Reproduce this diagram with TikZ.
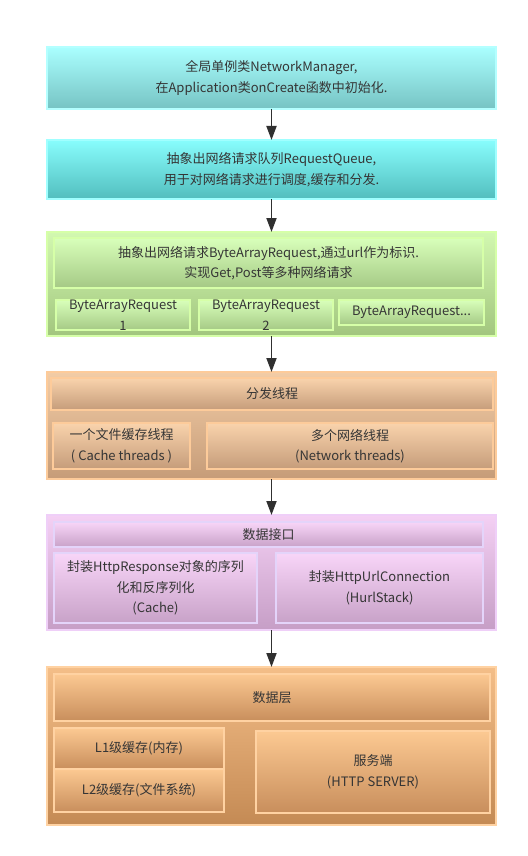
\documentclass[tikz,border=0pt]{standalone}
\usepackage{fontspec}
\setmainfont{Noto Sans CJK SC}
\usetikzlibrary{arrows.meta}

\definecolor{txt}{HTML}{353535}
\definecolor{arr}{HTML}{303030}
% cyan layers
\definecolor{cAt}{HTML}{AAFFFF}\definecolor{cAb}{HTML}{76C3C3}\definecolor{cAe}{HTML}{B4FFFF}
\definecolor{cBt}{HTML}{88FDFD}\definecolor{cBb}{HTML}{52BEBE}\definecolor{cBe}{HTML}{A0FFFF}
% green layer
\definecolor{gOt}{HTML}{D2F8B0}\definecolor{gOb}{HTML}{A2C67E}\definecolor{gE}{HTML}{D6FFA8}
\definecolor{gIt}{HTML}{D8FFBA}\definecolor{gIb}{HTML}{A5C985}
% dispatcher layer
\definecolor{oOt}{HTML}{F2CCA6}\definecolor{oOb}{HTML}{C69C78}\definecolor{oE}{HTML}{FDCB9A}
\definecolor{oIt}{HTML}{F9D3AC}\definecolor{oIb}{HTML}{C59C7A}
% interface layer
\definecolor{pOt}{HTML}{F4D0F4}\definecolor{pOb}{HTML}{C69EC6}\definecolor{pOE}{HTML}{EFCFF8}
\definecolor{pIt}{HTML}{F8D5F8}\definecolor{pIb}{HTML}{C8A2C8}\definecolor{pIE}{HTML}{E4D4FA}
% data layer
\definecolor{dOt}{HTML}{F4BE88}\definecolor{dOb}{HTML}{C48A54}\definecolor{dE}{HTML}{FFD2A2}
\definecolor{dIt}{HTML}{FCC992}\definecolor{dIb}{HTML}{C88E5C}

\tikzset{
  box/.style={draw, line width=1.6pt, anchor=north west, inner sep=0pt, outer sep=0pt,
    align=center, text=txt, font=\fontsize{13}{20.5}\selectfont},
  cyanA/.style={top color=cAt, bottom color=cAb, draw=cAe},
  cyanB/.style={top color=cBt, bottom color=cBb, draw=cBe},
  greenO/.style={top color=gOt, bottom color=gOb, draw=gE},
  greenI/.style={top color=gIt, bottom color=gIb, draw=gE},
  orO/.style={top color=oOt, bottom color=oOb, draw=oE},
  orI/.style={top color=oIt, bottom color=oIb, draw=oE},
  puO/.style={top color=pOt, bottom color=pOb, draw=pOE},
  puI/.style={top color=pIt, bottom color=pIb, draw=pIE},
  daO/.style={top color=dOt, bottom color=dOb, draw=dE},
  daI/.style={top color=dIt, bottom color=dIb, draw=dE},
  flow/.style={draw=arr, line width=1.8pt, -{Triangle[width=10pt,length=14pt]}}
}

% \blk{name}{x1}{y1}{x2}{y2}{style}{text}
\newcommand\blk[7]{%
  \node[box,#6,minimum width={(#4-#2)*1pt},minimum height={(#5-#3)*1pt}] (#1) at (#2,#3) {#7};}

\begin{document}
\begin{tikzpicture}[x=1pt,y=-1pt]
\useasboundingbox[fill=white] (0,0) rectangle (527,856);

\blk{init}{47}{47}{496}{109}{cyanA}{全局单例类NetworkManager,\\在Application类onCreate函数中初始化.}
\blk{queue}{47}{140}{496}{199}{cyanB}{抽象出网络请求队列RequestQueue,\\用于对网络请求进行调度,缓存和分发.}

\blk{reqgrp}{47}{232}{496}{336}{greenO}{}
\blk{reqtop}{54}{238}{483}{288}{greenI}{抽象出网络请求ByteArrayRequest,通过url作为标识.\\实现Get,Post等多种网络请求}
\blk{req1}{56}{300}{190}{325}{greenI}{ByteArrayRequest\\1}
\blk{req2}{199}{300}{333}{325}{greenI}{ByteArrayRequest\\2}
\blk{req3}{339}{300}{484}{325}{greenI}{ByteArrayRequest...}

\blk{dispgrp}{47}{372}{496}{479}{orO}{}
\blk{disptop}{51}{378}{493}{410}{orI}{分发线程}
\blk{cachethr}{53}{423}{190}{469}{orI}{一个文件缓存线程\\( Cache threads )}
\blk{netthr}{207}{423}{493}{469}{orI}{多个网络线程\\(Network threads)}

\blk{ifgrp}{47}{515}{496}{630}{puO}{}
\blk{iftop}{54}{522}{483}{547}{puI}{数据接口}
\blk{ifcache}{54}{553}{257}{623}{puI}{封装HttpResponse对象的序列\\化和反序列化\\(Cache)}
\blk{ifhurl}{276}{553}{483}{623}{puI}{封装HttpUrlConnection\\(HurlStack)}

\blk{datagrp}{47}{667}{496}{825}{daO}{}
\blk{datatop}{54}{674}{490}{721}{daI}{数据层}
\blk{l1}{54}{728}{224}{769}{daI}{L1级缓存(内存)}
\blk{l2}{54}{769}{224}{812}{daI}{L2级缓存(文件系统)}
\blk{server}{256}{731}{490}{813}{daI}{服务端\\(HTTP SERVER)}

\draw[flow] (init.south) -- (queue.north);
\draw[flow] (queue.south) -- (reqgrp.north);
\draw[flow] (reqgrp.south) -- (dispgrp.north);
\draw[flow] (dispgrp.south) -- (ifgrp.north);
\draw[flow] (ifgrp.south) -- (datagrp.north);
\end{tikzpicture}
\end{document}
